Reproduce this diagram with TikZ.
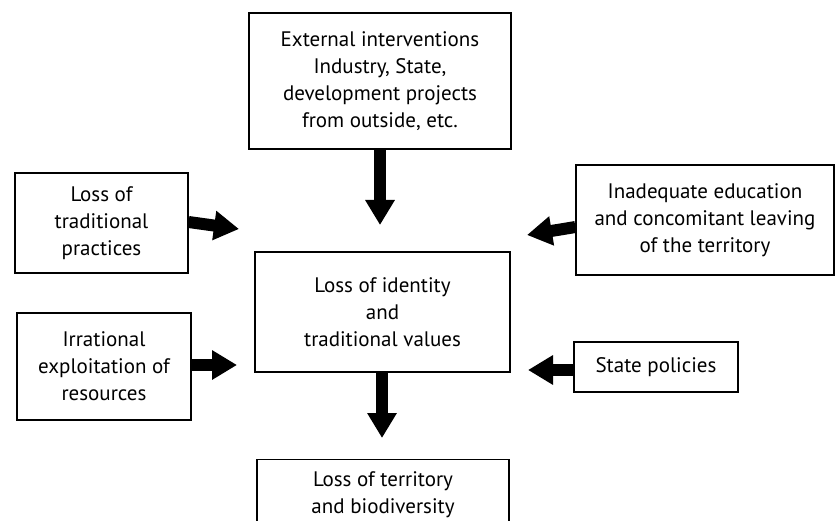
\documentclass[tikz,border=0pt]{standalone}
\usepackage{fontspec}
\setmainfont{PT Sans}
\usetikzlibrary{arrows.meta}
\def\fattip{-{Triangle[length=25pt,width=28pt]}}

\begin{document}
\begin{tikzpicture}[x=1pt,y=-1pt,
		box/.style={draw,line width=1.2pt,align=center,inner sep=0pt,
			font=\fontsize{21}{27}\selectfont},
		fat/.style={line width=12pt,\fattip}]
	\useasboundingbox (0,0) rectangle (835,521);
	% boxes
	\node[box,minimum width=262pt,minimum height=136pt] (ext) at (380,81)
		{External interventions\\Industry, State,\\development projects\\from outside, etc.};
	\node[box,minimum width=255pt,minimum height=120pt] (core) at (382.5,312)
		{Loss of identity\\and\\traditional values};
	\node[box,minimum width=173pt,minimum height=100pt] (prac) at (101.5,223)
		{Loss of\\traditional\\practices};
	\node[box,minimum width=174pt,minimum height=107pt] (expl) at (104,366.5)
		{Irrational\\exploitation of\\resources};
	\node[box,minimum width=258pt,minimum height=110pt] (edu) at (705,220)
		{Inadequate education\\and concomitant leaving\\of the territory};
	\node[box,minimum width=164pt,minimum height=50pt] (pol) at (656,367)
		{State policies};
	\node[box,minimum width=252pt,anchor=north,inner ysep=12pt,text depth=60pt] (terr) at (383,459)
		{Loss of territory\\and biodiversity};
	% arrow tips
	\coordinate (t1) at (380,225);
	\coordinate (t2) at (239,229);
	\coordinate (t3) at (237,365);
	\coordinate (t4) at (527,235);
	\coordinate (t5) at (528,370);
	\coordinate (t6) at (382,438);
	\draw[fat] (ext.south) -- (t1);
	\draw[fat] ([yshift=1pt]prac.east) -- (t2);
	\draw[fat] ([yshift=1.5pt]expl.east) -- (t3);
	\draw[fat] ([yshift=-7pt]edu.west) -- (t4);
	\draw[fat] ([yshift=-3pt]pol.west) -- (t5);
	\draw[fat] ([xshift=-0.5pt]core.south) -- (t6);
\end{tikzpicture}
\end{document}
